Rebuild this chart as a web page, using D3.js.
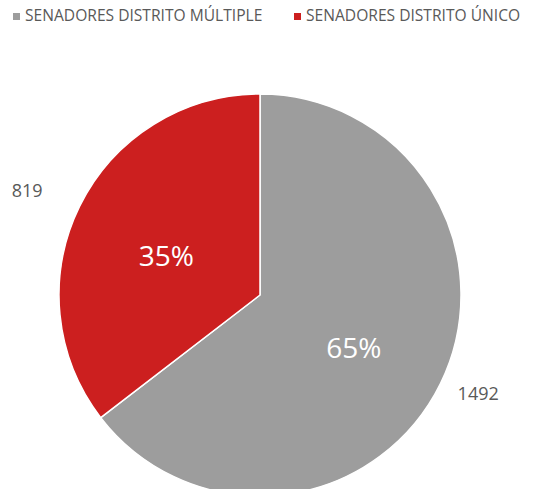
<!DOCTYPE html>
<html>
<head>
<meta charset="utf-8">
<script src="https://cdn.jsdelivr.net/npm/d3@7"></script>
<style>
  body { margin: 0; background: #fff; }
  text { font-family: "Open Sans", sans-serif; }
</style>
</head>
<body>
<div id="chart"></div>
<script>
// data
var categories = ["SENADORES DISTRITO MÚLTIPLE", "SENADORES DISTRITO ÚNICO"];
var values = [1492, 819];
var colors = ["#9d9d9d", "#cc1f1f"];

var width = 543, height = 489;
var radius = 201;
var cx = 260, cy = 295;
// how far out the value labels sit, as a fraction of the radius
var valueLabelR = [1.19, 1.27];

var svg = d3.select("#chart")
  .append("svg")
    .attr("width", width)
    .attr("height", height);

var total = d3.sum(values);
var slices = d3.pie().sort(null)(values);
var arc = d3.arc().innerRadius(0).outerRadius(radius);

var g = svg.append("g")
  .attr("transform", "translate(" + cx + "," + cy + ")");

g.selectAll("path")
  .data(slices)
  .enter()
  .append("path")
    .attr("d", arc)
    .style("fill", function(d, i) { return colors[i]; })
    .style("stroke", "#fff")
    .style("stroke-width", 1.5);

// percent labels inside
var inArc = d3.arc().innerRadius(radius * 0.52).outerRadius(radius * 0.52);
g.selectAll(".pct")
  .data(slices)
  .enter()
  .append("text")
    .attr("class", "pct")
    .attr("transform", function(d) { return "translate(" + inArc.centroid(d) + ")"; })
    .attr("dy", "0.6em")
    .attr("text-anchor", "middle")
    .style("fill", "#fff")
    .style("font-size", "28px")
    .text(function(d) { return Math.round(d.value / total * 100) + "%"; });

// value labels outside
g.selectAll(".val")
  .data(slices)
  .enter()
  .append("text")
    .attr("class", "val")
    .attr("transform", function(d, i) {
      var a = (d.startAngle + d.endAngle) / 2 - 0.035;
      return "translate(" + d3.pointRadial(a, radius * valueLabelR[i]) + ")";
    })
    .attr("dy", "0.36em")
    .attr("text-anchor", "middle")
    .style("fill", "#595959")
    .style("font-size", "18px")
    .text(function(d) { return d.value; });

// legend
var legendX = [13, 294];
var legend = svg.selectAll(".legend")
  .data(categories)
  .enter()
  .append("g")
    .attr("class", "legend")
    .attr("transform", function(d, i) { return "translate(" + legendX[i] + ",0)"; });

legend.append("rect")
    .attr("x", 0)
    .attr("y", 13)
    .attr("width", 7)
    .attr("height", 7)
    .style("fill", function(d, i) { return colors[i]; });

legend.append("text")
    .attr("x", 12)
    .attr("y", 21)
    .style("fill", "#595959")
    .style("font-size", "15.6px")
    .text(function(d) { return d; });
</script>
</body>
</html>
